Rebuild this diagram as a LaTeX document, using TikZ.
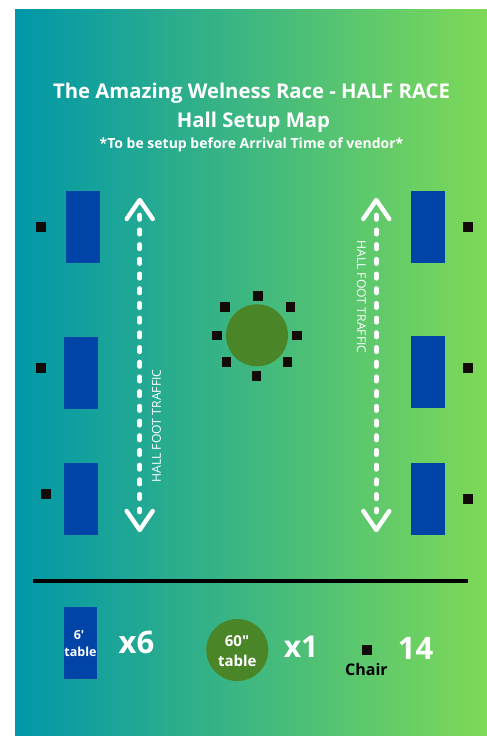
\documentclass[tikz,border=0pt]{standalone}
\usepackage{fontspec}
\setmainfont{Open Sans}
\newfontfamily\plainf{Open Sans}
\definecolor{gleft}{HTML}{0097A9}
\definecolor{gright}{HTML}{7ED957}
\definecolor{tblue}{HTML}{0044A8}
\definecolor{tgreen}{HTML}{4A8527}
\definecolor{chairc}{HTML}{120B08}
\tikzset{
  x=1pt,y=-1pt,
  sixft/.style={fill=tblue,draw=none,minimum width=34pt,minimum height=72pt,inner sep=0pt,anchor=center},
  round60/.style={circle,fill=tgreen,draw=none,minimum size=62pt,inner sep=0pt},
  chairbox/.style={fill=chairc,draw=none,minimum size=9.5pt,inner sep=0pt},
  whitetext/.style={text=white,inner sep=0pt,anchor=base},
  walk/.style={draw=white,line width=4.6pt,line cap=round,dash pattern=on 4.5pt off 10.2pt},
  head/.style={draw=white,line width=4.4pt,line cap=round,line join=round},
  trafficlabel/.style={text=white,inner sep=0pt,font=\fontsize{12.2}{15}\selectfont},
}
\begin{document}
\begin{tikzpicture}
\useasboundingbox (0,0) rectangle (487,736);
\fill[white] (0,0) rectangle (487,736);
\fill[left color=gleft,right color=gright,shading angle=90] (15,9) rectangle (487,736);
% title
\node[whitetext,font=\fontsize{20.3}{24}\selectfont\bfseries] (title1) at (251.5,98) {The Amazing Welness Race - HALF RACE};
\node[whitetext,font=\fontsize{20.3}{24}\selectfont\bfseries] (title2) at (253.5,127) {Hall Setup Map};
\node[whitetext,font=\fontsize{14}{17}\selectfont\bfseries] (title3) at (251.5,148) {*To be setup before Arrival Time of vendor*};
% six foot tables
\node[sixft] (tl1) at (83,227) {};
\node[sixft] (tl2) at (81,373) {};
\node[sixft] (tl3) at (81,499) {};
\node[sixft] (tr1) at (428,227) {};
\node[sixft] (tr2) at (428,372) {};
\node[sixft] (tr3) at (428,499) {};
% side chairs
\node[chairbox] (cl1) at (41,227) {};
\node[chairbox] (cl2) at (41,368) {};
\node[chairbox] (cl3) at (46,494) {};
\node[chairbox] (cr1) at (468,227) {};
\node[chairbox] (cr2) at (468,368) {};
\node[chairbox] (cr3) at (468,499) {};
% round table
\node[round60] (rt) at (257,335.3) {};
\node[chairbox] (c1) at (258,296) {};
\node[chairbox] (c2) at (225,307) {};
\node[chairbox] (c3) at (290.5,307) {};
\node[chairbox] (c4) at (217,335.3) {};
\node[chairbox] (c5) at (297,335.3) {};
\node[chairbox] (c6) at (226.3,362) {};
\node[chairbox] (c7) at (287.3,362) {};
\node[chairbox] (c8) at (256.5,376) {};
% left arrow
\coordinate (lt) at (139.7,200);
\coordinate (lb) at (139.7,530);
\coordinate (lts) at (139.7,215);
\coordinate (lbs) at (139.7,512);
\draw[walk] (lts) -- (lbs);
\draw[head] ([shift={(-13,19)}]lt) -- (lt) -- ([shift={(13,19)}]lt);
\draw[head] ([shift={(-13,-19)}]lb) -- (lb) -- ([shift={(13,-19)}]lb);
% right arrow
\coordinate (rt1) at (376.3,200);
\coordinate (rb1) at (376.3,530);
\coordinate (rts) at (376.3,215);
\coordinate (rbs) at (376.3,512);
\draw[walk] (rts) -- (rbs);
\draw[head] ([shift={(-13,19)}]rt1) -- (rt1) -- ([shift={(13,19)}]rt1);
\draw[head] ([shift={(-13,-19)}]rb1) -- (rb1) -- ([shift={(13,-19)}]rb1);
% labels
\node[trafficlabel,rotate=90] (tlab1) at (156.5,426) {HALL FOOT TRAFFIC};
\node[trafficlabel,rotate=-90] (tlab2) at (361.5,297) {HALL FOOT TRAFFIC};
% divider
\coordinate (d1) at (33,581);
\coordinate (d2) at (468,581);
\draw[black,line width=3.6pt] (d1) -- (d2);
% legend
\node[sixft,minimum width=33.5pt] (lg1) at (80.5,643) {};
\node[whitetext,font=\plainf\fontsize{12.5}{15}\selectfont\bfseries] (lg1a) at (79,639) {6'};
\node[whitetext,font=\fontsize{12.5}{15}\selectfont\bfseries] (lg1b) at (80.5,656) {table};
\node[whitetext,font=\fontsize{31}{36}\selectfont\bfseries] (x6) at (136.5,653) {x6};
\node[round60] (lg2) at (237.3,650) {};
\node[whitetext,font=\plainf\fontsize{15}{18}\selectfont\bfseries] (lg2a) at (237,646) {60"};
\node[whitetext,font=\fontsize{15}{18}\selectfont\bfseries] (lg2b) at (237.3,666) {table};
\node[whitetext,font=\fontsize{30}{36}\selectfont\bfseries] (x1) at (301,657) {x1};
\node[chairbox] (lg3) at (367,650) {};
\node[inner sep=0pt,anchor=base,text=black,font=\fontsize{16}{19}\selectfont\bfseries] (lg3a) at (366.5,675) {Chair};
\node[whitetext,font=\fontsize{31}{36}\selectfont\bfseries] (n14) at (415.5,659) {14};
\end{tikzpicture}
\end{document}
